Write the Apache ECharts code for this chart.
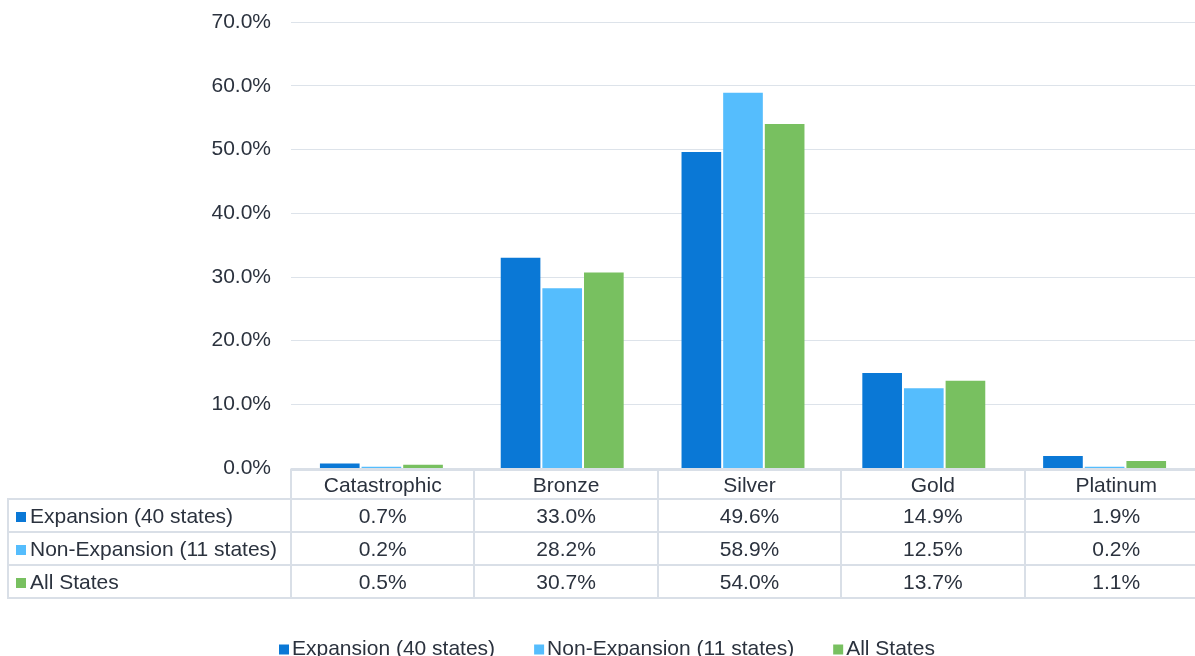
<!DOCTYPE html>
<html lang="en">
  <head>
    <meta charset="UTF-8" />
    <title>Metal tier distribution</title>
    <script src="https://cdn.jsdelivr.net/npm/echarts@6/dist/echarts.min.js"></script>
    <style>
      body { margin: 0; background: #fff; }
      .wrap { position: relative; width: 1195px; height: 656px; overflow: hidden; }
      .echarts { position: absolute; left: 0; top: 0; width: 1195px; height: 656px; }
      table.data {
        position: absolute;
        left: 7px;
        top: 469px;
        width: 1200px;
        border-collapse: collapse;
        table-layout: fixed;
        font-family: 'Liberation Sans', Arial, sans-serif;
        font-size: 21px;
        color: #2b323e;
      }
      table.data td {
        border: 2px solid #d9dfe7;
        text-align: center;
        padding: 0;
        height: 31px;
        white-space: nowrap;
        overflow: hidden;
      }
      table.data tr.head td { height: 27px; }
      table.data td.corner { border: none; border-bottom: 2px solid #d9dfe7; }
      table.data td.lbl { text-align: left; padding-left: 7px; }
      .sw { display: inline-block; width: 10px; height: 10px; margin-right: 4px; vertical-align: 1px; }
    </style>
  </head>
  <body>
    <div class="wrap">
      <div class="echarts"></div>
      <table class="data"></table>
    </div>
    <script>
      // data
      const categories = ['Catastrophic', 'Bronze', 'Silver', 'Gold', 'Platinum']
      const seriesNames = ['Expansion (40 states)', 'Non-Expansion (11 states)', 'All States']
      const expansion = [0.7, 33.0, 49.6, 14.9, 1.9]
      const nonExpansion = [0.2, 28.2, 58.9, 12.5, 0.2]
      const allStates = [0.5, 30.7, 54.0, 13.7, 1.1]
      const colors = ['#0a78d6', '#55bdfd', '#78c060']

      const values = [expansion, nonExpansion, allStates]
      const fmt = v => v.toFixed(1) + '%'

      const myCharts = echarts.init(document.querySelector('.echarts'))

      const option = {
        animation: false,
        textStyle: { fontFamily: 'Liberation Sans, Arial, sans-serif' },
        grid: {
          left: 291,
          top: 22,
          width: 917, // plot runs past the right edge, like the original
          height: 446
        },
        xAxis: {
          type: 'category',
          data: categories,
          axisLine: { lineStyle: { color: '#d9dfe7', width: 1 } },
          axisTick: { show: false },
          axisLabel: { show: false } // names are in the table header
        },
        yAxis: {
          type: 'value',
          min: 0,
          max: 70,
          interval: 10,
          axisLabel: {
            formatter: v => fmt(v),
            fontSize: 21,
            color: '#2b323e',
            margin: 20
          },
          splitLine: { lineStyle: { color: '#dde3ea', width: 1 } }
        },
        legend: {
          top: 634,
          left: 274,
          itemWidth: 10,
          itemHeight: 10,
          itemGap: 39,
          icon: 'rect',
          textStyle: { fontSize: 21, color: '#2b323e', padding: [0, 0, 0, -2] },
          data: seriesNames
        },
        series: seriesNames.map((name, i) => ({
          type: 'bar',
          name: name,
          data: values[i],
          itemStyle: { color: colors[i] },
          barGap: '5%',
          barCategoryGap: '32%'
        }))
      }
      myCharts.setOption(option)

      // data table under the plot, built from the same arrays
      const table = document.querySelector('table.data')
      const colW = 917 / categories.length
      let html = '<colgroup><col style="width:283px">'
      categories.forEach(() => { html += '<col style="width:' + colW + 'px">' })
      html += '</colgroup><tr class="head"><td class="corner"></td>'
      categories.forEach(c => { html += '<td>' + c + '</td>' })
      html += '</tr>'
      seriesNames.forEach((name, i) => {
        html += '<tr><td class="lbl"><span class="sw" style="background:' + colors[i] + '"></span>' + name + '</td>'
        values[i].forEach(v => { html += '<td>' + fmt(v) + '</td>' })
        html += '</tr>'
      })
      table.innerHTML = html
    </script>
  </body>
</html>
